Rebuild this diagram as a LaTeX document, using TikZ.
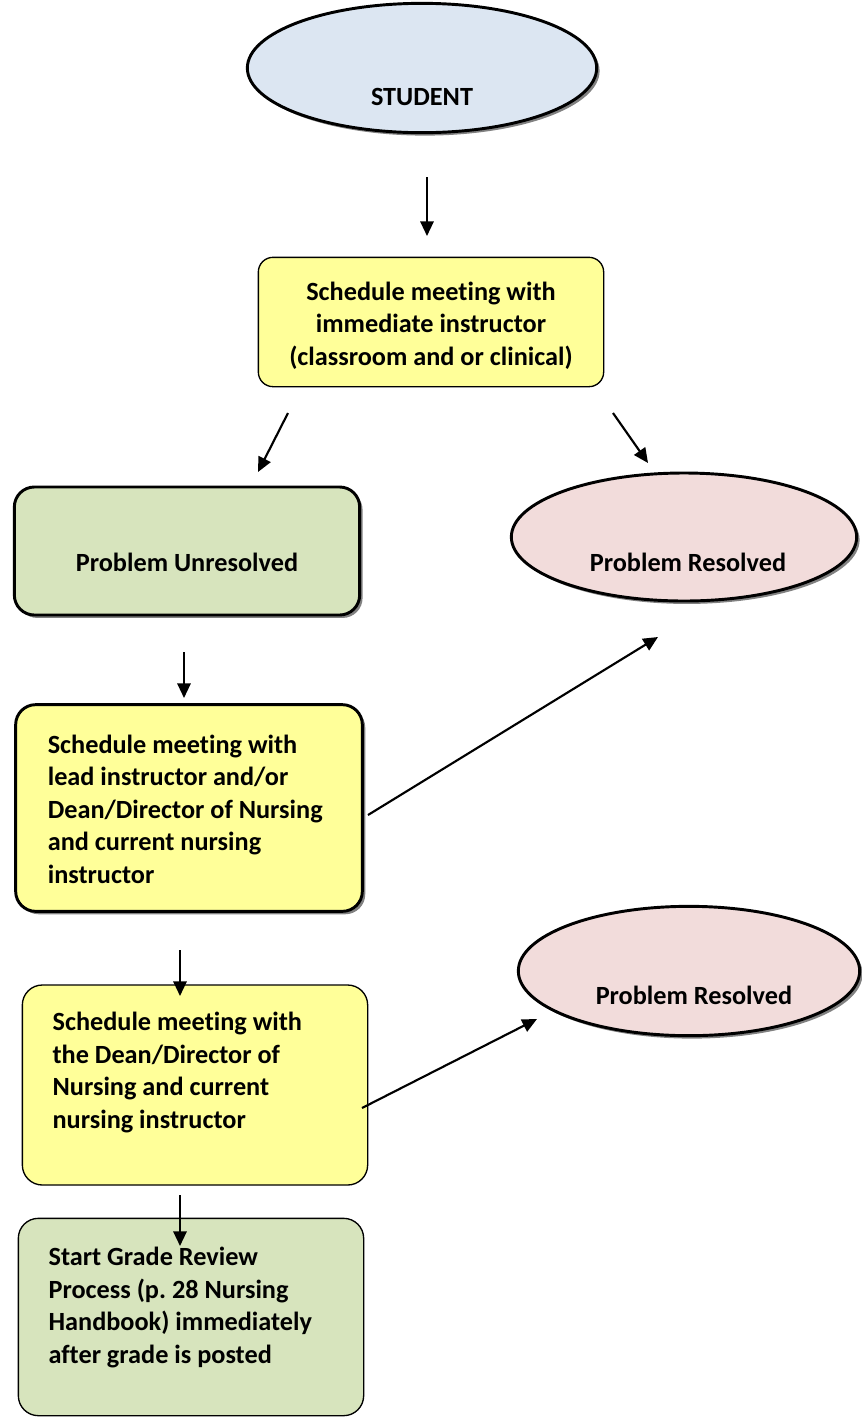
\documentclass[tikz,border=0pt]{standalone}
\usepackage{fontspec}
\setmainfont{Carlito}[Ligatures=NoCommon]
\usepackage{tikz}
\usetikzlibrary{shapes, shadows, positioning, arrows.meta}
\frenchspacing
\definecolor{studentBlue}{HTML}{DCE6F2}
\definecolor{meetYellow}{HTML}{FFFF99}
\definecolor{reviewGreen}{HTML}{D7E4BD}
\definecolor{resolvedPink}{HTML}{F2DCDB}
\tikzstyle{flowText}=[font=\bfseries\fontsize{19.7}{24.4}\selectfont, inner sep=0pt]
\tikzstyle{leftText}=[flowText, align=left, anchor=west]
\tikzstyle{heavyShadow}=[drop shadow={shadow xshift=2.2pt, shadow yshift=-2.2pt, fill=black!55, opacity=0.9}]
\tikzstyle{heavyBox}=[rectangle, rounded corners=15pt, draw=black, line width=2.2pt, heavyShadow]
\tikzstyle{lightBox}=[rectangle, rounded corners=15pt, draw=black, line width=1pt]
\tikzstyle{bubble}=[ellipse, draw=black, line width=2.2pt, inner sep=0pt, heavyShadow]
\tikzstyle{arrow}=[->, line width=1.6pt, >={Triangle[length=11pt, width=10pt]}, draw=black]

\begin{document}
\begin{tikzpicture}[x=0.75pt, y=-0.75pt]
      \useasboundingbox (0,0) rectangle (861,1418);

      \node[bubble, fill=studentBlue, minimum width=262pt, minimum height=97pt,
        label={[flowText, yshift=-21.5pt]center:STUDENT}] (student) at (422,68) {};
      \node[lightBox, fill=meetYellow, rounded corners=11pt, minimum width=259pt, minimum height=97pt,
        label={[flowText, align=center, yshift=-2.8pt]center:Schedule meeting with\\immediate instructor\\(classroom and or clinical)}] (meetInstr) at (431,322) {};

      \node[heavyBox, fill=reviewGreen, minimum width=259pt, minimum height=96pt,
        label={[flowText, yshift=-8.2pt]center:Problem Unresolved}] (unresolved) at (187,551) {};
      \node[bubble, fill=resolvedPink, minimum width=259pt, minimum height=96pt,
        label={[flowText, yshift=-18.7pt, xshift=3pt]center:Problem Resolved}] (resolvedA) at (684,537) {};

      \node[heavyBox, fill=meetYellow, minimum width=260pt, minimum height=155pt,
        label={[leftText, xshift=25pt, yshift=-1pt]west:Schedule meeting with\\lead instructor and/or\\Dean/Director of Nursing\\and current nursing\\instructor}] (meetLead) at (189,808) {};

      \node[lightBox, fill=meetYellow, minimum width=259pt, minimum height=150pt,
        label={[leftText, xshift=23pt, yshift=9.5pt]west:Schedule meeting with\\the Dean/Director of\\Nursing and current\\nursing instructor}] (meetDean) at (195,1085) {};
      \node[bubble, fill=resolvedPink, minimum width=256pt, minimum height=97pt,
        label={[flowText, yshift=-18pt, xshift=3.7pt]center:Problem Resolved}] (resolvedB) at (689,971) {};

      \node[lightBox, fill=reviewGreen, minimum width=259pt, minimum height=148pt,
        label={[leftText, xshift=23pt, yshift=7pt]west:Start Grade Review\\Process (p. 28 Nursing\\Handbook) immediately\\after grade is posted}] (gradeReview) at (191,1317) {};

      \coordinate (toInstrA) at (427,177);
      \coordinate (toInstrB) at (427,236);
      \coordinate (splitL) at (288,413);
      \coordinate (toUnres) at (258,472);
      \coordinate (splitR) at (613,413);
      \coordinate (toResA) at (648,463);
      \coordinate (toLeadA) at (184,652);
      \coordinate (toLeadB) at (184,698);
      \coordinate (leadOut) at (368,815);
      \coordinate (leadRes) at (658,637);
      \coordinate (toDeanA) at (180,950);
      \coordinate (toDeanB) at (180,996);
      \coordinate (deanOut) at (362,1108);
      \coordinate (deanRes) at (537,1019);
      \coordinate (toGradeA) at (180,1195);
      \coordinate (toGradeB) at (180,1246);

      \draw[arrow] (toInstrA) -- (toInstrB);
      \draw[arrow] (splitL) -- (toUnres);
      \draw[arrow] (splitR) -- (toResA);
      \draw[arrow] (toLeadA) -- (toLeadB);
      \draw[arrow] (leadOut) -- (leadRes);
      \draw[arrow] (toDeanA) -- (toDeanB);
      \draw[arrow] (deanOut) -- (deanRes);
      \draw[arrow] (toGradeA) -- (toGradeB);
    \end{tikzpicture}
\end{document}
